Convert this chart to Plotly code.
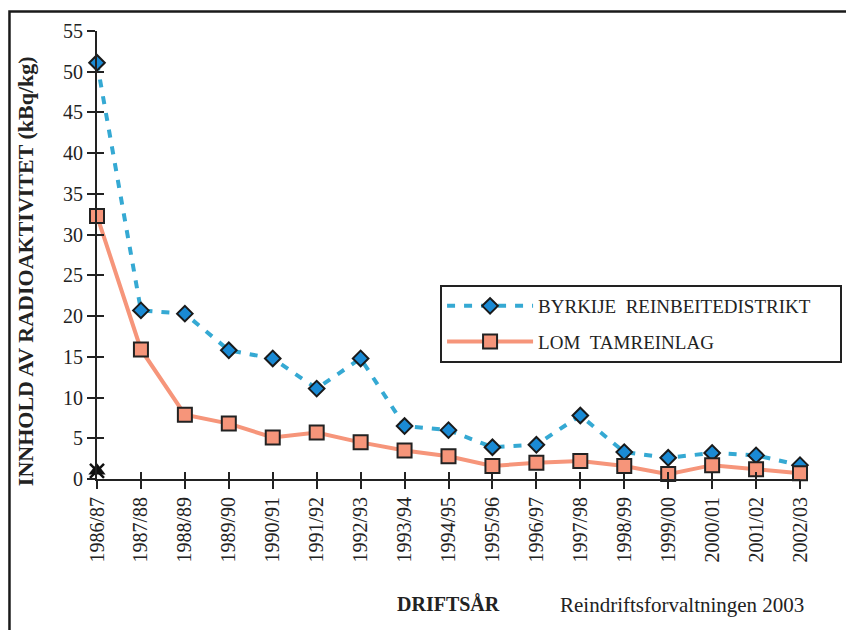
import plotly.graph_objects as go

years = ["1986/87", "1987/88", "1988/89", "1989/90", "1990/91", "1991/92",
         "1992/93", "1993/94", "1994/95", "1995/96", "1996/97", "1997/98",
         "1998/99", "1999/00", "2000/01", "2001/02", "2002/03"]

byrkije = [51.1, 20.7, 20.3, 15.8, 14.8, 11.1, 14.8, 6.5, 6.0, 3.9, 4.2,
           7.8, 3.3, 2.6, 3.2, 2.9, 1.7]
lom = [32.3, 15.9, 7.9, 6.8, 5.1, 5.7, 4.5, 3.5, 2.8, 1.6, 2.0, 2.2, 1.6,
       0.6, 1.7, 1.2, 0.7]
extra_year = ["1986/87"]
extra_val = [1.0]

serif = "Liberation Serif"
blue_line = "#35a9d3"
blue_fill = "#1a8ad4"
orange = "#f6957a"
pad = "\u00a0" * 5

fig = go.Figure()

fig.add_trace(go.Scatter(
    x=years, y=byrkije, name="BYRKIJE \u00a0REINBEITEDISTRIKT" + pad,
    mode="lines+markers", legendgroup="a", cliponaxis=False,
    line=dict(color=blue_line, width=4, dash="8px,9px"),
    marker=dict(symbol="diamond", size=12, color=blue_fill,
                line=dict(color="#1a1a1a", width=2)),
))
fig.add_trace(go.Scatter(
    x=years, y=lom, name="LOM \u00a0TAMREINLAG",
    mode="lines+markers", legendgroup="b", cliponaxis=False,
    line=dict(color=orange, width=4),
    marker=dict(symbol="square", size=14, color=orange,
                line=dict(color="#222222", width=2)),
))
fig.add_trace(go.Scatter(
    x=extra_year, y=extra_val, mode="markers", showlegend=False,
    cliponaxis=False,
    marker=dict(symbol="triangle-up", size=15, color="#111111"),
))
fig.add_trace(go.Scatter(
    x=extra_year, y=extra_val, mode="markers", showlegend=False,
    cliponaxis=False,
    marker=dict(symbol="x-thin", size=14, line=dict(color="#111111", width=2.5)),
))
# dummy trace so the inside-tick overlay axes are drawn
fig.add_trace(go.Scatter(x=[0], y=[0], xaxis="x2", yaxis="y2", mode="markers",
                         marker=dict(opacity=0), showlegend=False,
                         hoverinfo="skip"))

axis_common = dict(showgrid=False, zeroline=False, showline=True,
                   linecolor="#222222", linewidth=2, ticks="outside",
                   ticklen=8, tickwidth=2, tickcolor="#222222")

# page body has an 8px margin, so shift the plot area up/left by 8px
fig.update_layout(
    width=854, height=630,
    paper_bgcolor="white", plot_bgcolor="white",
    margin=dict(l=89, r=62, t=21, b=159),
    font=dict(family=serif, size=20, color="#222222"),
    xaxis=dict(type="category", range=[0, 16], tickangle=-90,
               tickfont=dict(size=20), **axis_common),
    yaxis=dict(range=[0, 55], dtick=5, tickfont=dict(size=20),
               **axis_common),
    xaxis2=dict(overlaying="x", range=[0, 16], dtick=1, showgrid=False,
                zeroline=False, showticklabels=False, ticks="inside",
                ticklen=7, tickwidth=2, tickcolor="#222222", anchor="y2"),
    yaxis2=dict(overlaying="y", range=[0, 55], dtick=5, showgrid=False,
                zeroline=False, showticklabels=False, ticks="inside",
                ticklen=7, tickwidth=2, tickcolor="#222222", anchor="x2"),
    legend=dict(x=0.488, y=0.433, xanchor="left", yanchor="top",
                bgcolor="white", bordercolor="#222222", borderwidth=2,
                font=dict(size=19, family=serif), itemwidth=86,
                tracegroupgap=8),
    annotations=[
        dict(text="<b>INNHOLD AV RADIOAKTIVITET (kBq/kg)</b>",
             xref="paper", yref="paper", x=-0.1024, y=0.464,
             xanchor="center", yanchor="middle",
             textangle=-90, showarrow=False, font=dict(size=22)),
        dict(text="<b>DRIFTSÅR</b>", xref="paper", yref="paper",
             x=0.5, y=-0.307, showarrow=False, font=dict(size=20)),
        dict(text="Reindriftsforvaltningen 2003", xref="paper", yref="paper",
             x=1.009, y=-0.312, xanchor="right", showarrow=False,
             font=dict(size=21)),
    ],
    shapes=[
        dict(type="rect", xref="paper", yref="paper", x0=-0.1245, x1=1.2,
             y0=-0.5, y1=1.0433, line=dict(color="#1a1a1a", width=2.5)),
    ],
)

fig.write_html("out.html")
